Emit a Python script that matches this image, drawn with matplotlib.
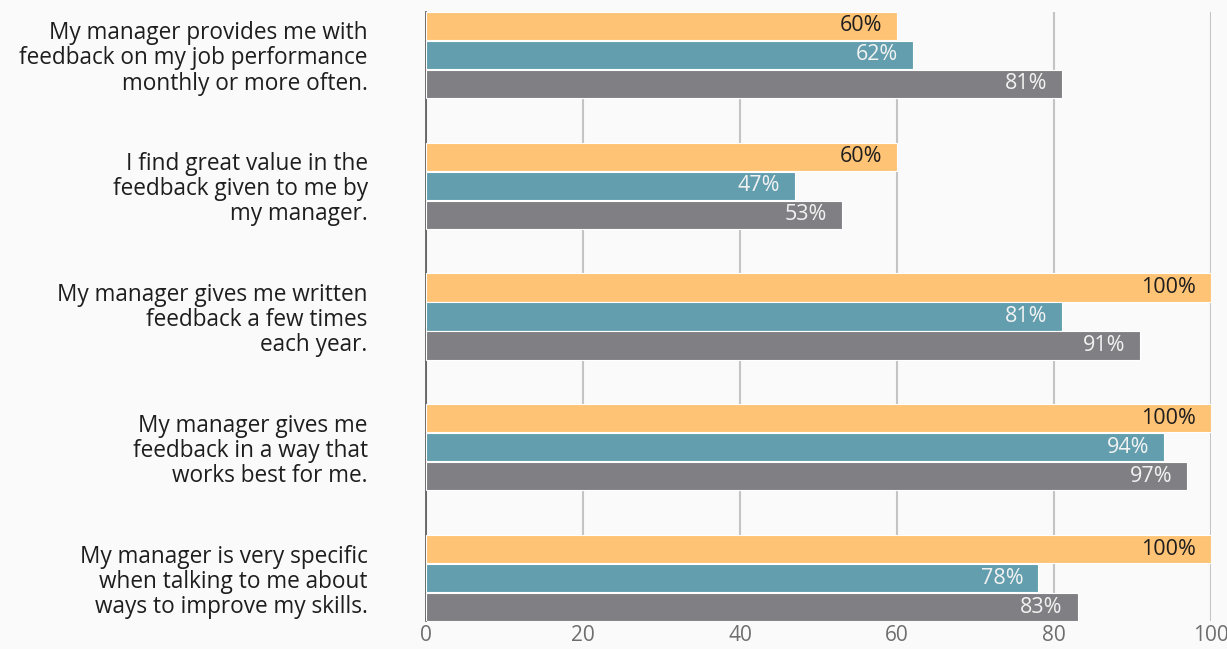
import numpy as np
from matplotlib import pyplot as plt

# survey statements, top to bottom
questions = [
    'My manager provides me with\nfeedback on my job performance\nmonthly or more often.',
    'I find great value in the\nfeedback given to me by\nmy manager.',
    'My manager gives me written\nfeedback a few times\neach year.',
    'My manager gives me\nfeedback in a way that\nworks best for me.',
    'My manager is very specific\nwhen talking to me about\nways to improve my skills.',
]
orange_vals = [60, 60, 100, 100, 100]
teal_vals = [62, 47, 81, 94, 78]
gray_vals = [81, 53, 91, 97, 83]
xticks = [0, 20, 40, 60, 80, 100]

series = [
    (orange_vals, '#ffc375', '#1e1e1e'),
    (teal_vals, '#629eae', '#f2f2f2'),
    (gray_vals, '#808084', '#f2f2f2'),
]

FONT = ['Open Sans', 'DejaVu Sans']
plt.rcParams['font.family'] = FONT

fig = plt.figure(figsize=(12.27, 6.49), dpi=100, facecolor='#fafafa')
ax = fig.add_axes([426 / 1227, 1 - 621 / 649, 785 / 1227, 609 / 649])
ax.set_facecolor('#fafafa')

y = np.arange(len(questions))
step = 0.222
h = 0.215
for k, (vals, col, tcol) in enumerate(series):
    pos = y + (k - 1) * step
    ax.barh(pos, vals, height=h, color=col, edgecolor='white', linewidth=0.8, zorder=3)
    for p, v in zip(pos, vals):
        ax.text(v - 1.9, p, f'{v}%', ha='right', va='center', fontsize=15.5,
                color=tcol, zorder=4)

ax.set_xlim(0, 100)
ax.set_ylim(len(questions) - 1 + 1.5 * step - 0.005, -1.5 * step + 0.005)
ax.set_xticks(xticks)
ax.set_xticklabels([str(t) for t in xticks], fontsize=15, color='#6e6e6e')
ax.tick_params(axis='x', length=0, pad=3)
ax.set_yticks(y)
ax.set_yticklabels(questions, fontsize=16.3, color='#1e1e1e', linespacing=1.06)
for lab in ax.get_yticklabels():
    lab.set_horizontalalignment('right')
ax.tick_params(axis='y', length=0, pad=42)
ax.grid(axis='x', color='#c4c4c4', linewidth=1.5, zorder=0)
for s in ['top', 'right', 'bottom']:
    ax.spines[s].set_visible(False)
ax.spines['left'].set_color('#555555')
ax.spines['left'].set_linewidth(1.2)

fig.savefig('out.png', dpi=100, facecolor=fig.get_facecolor())
